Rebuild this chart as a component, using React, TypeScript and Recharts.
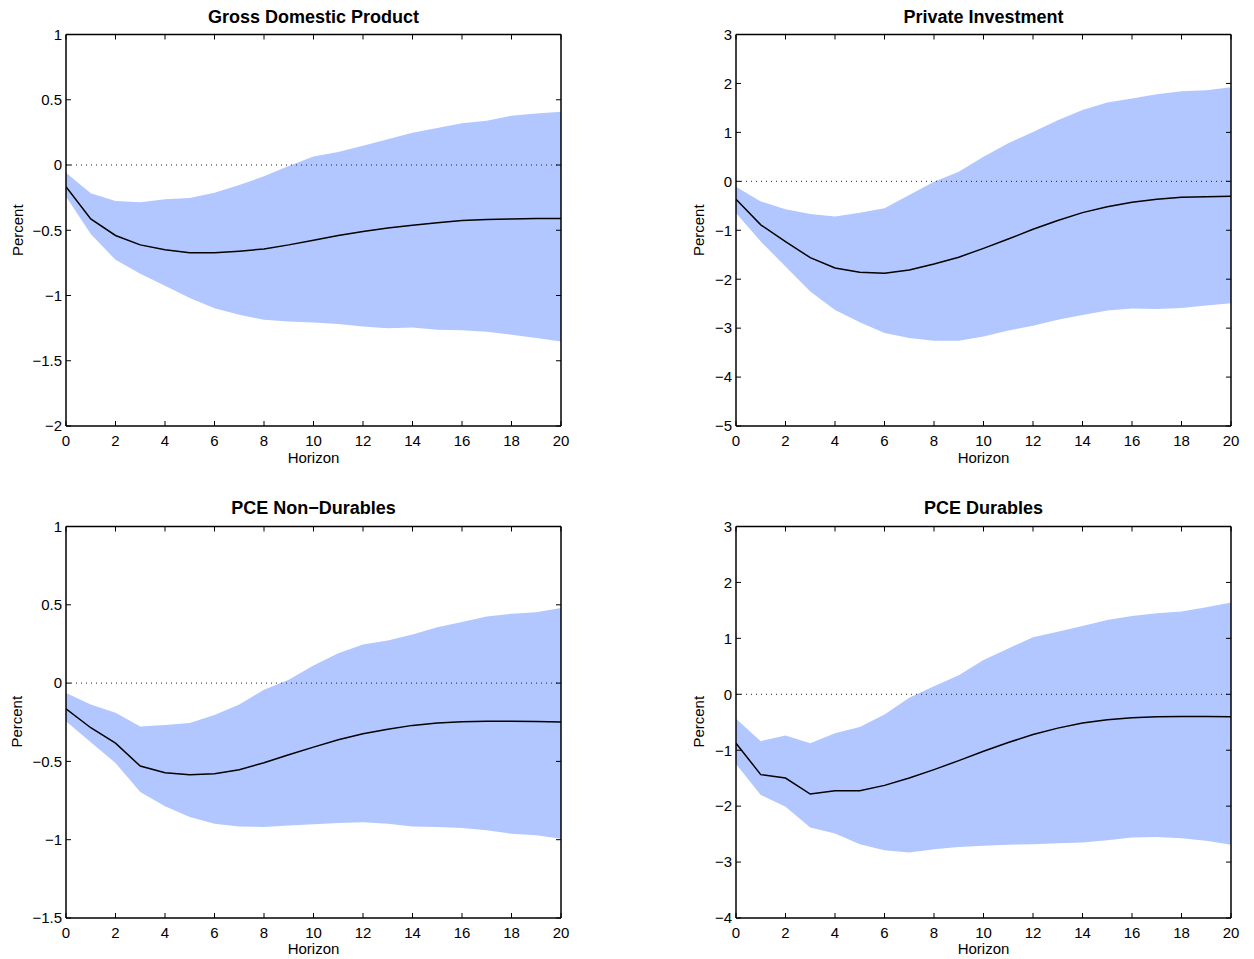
import React from "react";
import { ComposedChart, Area, Line, XAxis, YAxis, ReferenceLine } from "recharts";

// ---------- data ----------
const horizon = [0, 1, 2, 3, 4, 5, 6, 7, 8, 9, 10, 11, 12, 13, 14, 15, 16, 17, 18, 19, 20];
const xTicks = [0, 2, 4, 6, 8, 10, 12, 14, 16, 18, 20];

const gdpTitle = "Gross Domestic Product";
const gdpMean = [-0.166, -0.413, -0.54, -0.612, -0.65, -0.673, -0.673, -0.66, -0.643, -0.612, -0.576, -0.54, -0.51, -0.482, -0.461, -0.443, -0.426, -0.418, -0.413, -0.41, -0.41];
const gdpUpper = [-0.059, -0.217, -0.276, -0.286, -0.263, -0.253, -0.212, -0.153, -0.087, -0.008, 0.066, 0.1, 0.148, 0.197, 0.247, 0.283, 0.319, 0.339, 0.377, 0.395, 0.408];
const gdpLower = [-0.242, -0.528, -0.727, -0.834, -0.926, -1.02, -1.097, -1.148, -1.186, -1.199, -1.206, -1.219, -1.237, -1.25, -1.245, -1.262, -1.267, -1.277, -1.3, -1.325, -1.352];
const gdpTicks = [-2, -1.5, -1, -0.5, 0, 0.5, 1];

const invTitle = "Private Investment";
const invMean = [-0.367, -0.89, -1.23, -1.56, -1.77, -1.86, -1.88, -1.81, -1.69, -1.55, -1.37, -1.18, -0.98, -0.8, -0.64, -0.52, -0.43, -0.367, -0.327, -0.313, -0.306];
const invUpper = [-0.11, -0.41, -0.57, -0.667, -0.72, -0.64, -0.55, -0.28, -0.007, 0.197, 0.503, 0.776, 1.01, 1.25, 1.456, 1.61, 1.69, 1.78, 1.84, 1.86, 1.92];
const invLower = [-0.65, -1.23, -1.74, -2.25, -2.63, -2.88, -3.1, -3.2, -3.26, -3.26, -3.17, -3.05, -2.95, -2.83, -2.73, -2.64, -2.6, -2.61, -2.59, -2.54, -2.49];
const invTicks = [-5, -4, -3, -2, -1, 0, 1, 2, 3];

const ndTitle = "PCE Non\u2212Durables";
const ndMean = [-0.164, -0.285, -0.383, -0.53, -0.572, -0.585, -0.579, -0.553, -0.509, -0.457, -0.409, -0.362, -0.323, -0.294, -0.27, -0.255, -0.247, -0.243, -0.243, -0.245, -0.249];
const ndUpper = [-0.064, -0.136, -0.19, -0.277, -0.268, -0.255, -0.204, -0.136, -0.043, 0.021, 0.113, 0.19, 0.247, 0.272, 0.31, 0.357, 0.39, 0.426, 0.443, 0.453, 0.48];
const ndLower = [-0.243, -0.377, -0.51, -0.696, -0.787, -0.855, -0.898, -0.915, -0.919, -0.91, -0.902, -0.894, -0.889, -0.898, -0.915, -0.919, -0.926, -0.94, -0.962, -0.972, -0.994];
const ndTicks = [-1.5, -1, -0.5, 0, 0.5, 1];

const durTitle = "PCE Durables";
const durMean = [-0.874, -1.437, -1.497, -1.784, -1.725, -1.725, -1.629, -1.497, -1.347, -1.186, -1.018, -0.862, -0.719, -0.605, -0.515, -0.455, -0.419, -0.401, -0.395, -0.395, -0.401];
const durUpper = [-0.437, -0.838, -0.737, -0.874, -0.695, -0.587, -0.36, -0.06, 0.144, 0.341, 0.611, 0.82, 1.018, 1.12, 1.22, 1.33, 1.4, 1.45, 1.48, 1.557, 1.64];
const durLower = [-1.245, -1.8, -2.01, -2.38, -2.49, -2.68, -2.79, -2.83, -2.77, -2.73, -2.71, -2.69, -2.68, -2.665, -2.65, -2.61, -2.56, -2.55, -2.575, -2.62, -2.69];
const durTicks = [-4, -3, -2, -1, 0, 1, 2, 3];

const xLabel = "Horizon";
const yLabel = "Percent";

// ---------- layout ----------
const BAND = "#b2c7ff";
const FONT = "'Liberation Sans', Arial, Helvetica, sans-serif";
const CHART_W = 600;
const CHART_H = 480;
const PLOT_LEFT = 66;
const PLOT_TOP = 34.5;
const PLOT_W = 495;
const PLOT_H = 391.5;

const fmt = (v: number) => (v < 0 ? "\u2212" + String(-v) : String(v));

function buildRows(mean: number[], lower: number[], upper: number[]) {
  return horizon.map((h, i) => ({ h, mean: mean[i], band: [lower[i], upper[i]] }));
}

const panels = [
  { title: gdpTitle, mean: gdpMean, lower: gdpLower, upper: gdpUpper, ticks: gdpTicks, ox: 0, oy: 0, ylx: 22.5 },
  { title: invTitle, mean: invMean, lower: invLower, upper: invUpper, ticks: invTicks, ox: 670, oy: 0, ylx: 704 },
  { title: ndTitle, mean: ndMean, lower: ndLower, upper: ndUpper, ticks: ndTicks, ox: 0, oy: 491.5, ylx: 22 },
  { title: durTitle, mean: durMean, lower: durLower, upper: durUpper, ticks: durTicks, ox: 670, oy: 491.5, ylx: 704 },
];

const axisLine = { stroke: "#000", strokeWidth: 1.5 };
const tickLine = { stroke: "#000", strokeWidth: 1 };
const hiddenTick = { fill: "none", fontSize: 1 };

function Panel(p: typeof panels[number]) {
  const rows = buildRows(p.mean, p.lower, p.upper);
  const domain: [number, number] = [p.ticks[0], p.ticks[p.ticks.length - 1]];
  return (
    <div style={{ position: "absolute", left: p.ox, top: p.oy, width: CHART_W, height: CHART_H }}>
      <ComposedChart
        width={CHART_W}
        height={CHART_H}
        data={rows}
        margin={{
          top: PLOT_TOP - 1,
          right: CHART_W - PLOT_LEFT - PLOT_W - 1,
          bottom: CHART_H - PLOT_TOP - PLOT_H - 30,
          left: PLOT_LEFT - 60,
        }}
      >
        <Area xAxisId="b" yAxisId="l" dataKey="band" type="linear" stroke="none" fill={BAND} fillOpacity={1} isAnimationActive={false} />
        <ReferenceLine xAxisId="b" yAxisId="l" y={0} stroke="#222" strokeWidth={1} strokeDasharray="1 4" />
        <Line xAxisId="b" yAxisId="l" dataKey="mean" type="linear" stroke="#000" strokeWidth={1.5} dot={false} isAnimationActive={false} />
        <Line xAxisId="t" yAxisId="r" dataKey="mean" type="linear" stroke="none" dot={false} isAnimationActive={false} />
        <XAxis
          xAxisId="b"
          dataKey="h"
          type="number"
          domain={[0, 20]}
          ticks={xTicks}
          interval={0}
          allowDataOverflow
          tickSize={-5}
          tickMargin={14}
          height={30}
          axisLine={axisLine}
          tickLine={tickLine}
          tick={{ fontSize: 15, fill: "#000" }}
        />
        <XAxis
          xAxisId="t"
          orientation="top"
          dataKey="h"
          type="number"
          domain={[0, 20]}
          ticks={xTicks}
          interval={0}
          allowDataOverflow
          tickSize={-5}
          height={1}
          axisLine={axisLine}
          tickLine={tickLine}
          tick={hiddenTick}
        />
        <YAxis
          yAxisId="l"
          type="number"
          domain={domain}
          ticks={p.ticks}
          interval={0}
          allowDataOverflow
          tickSize={-5}
          tickMargin={9}
          width={60}
          tickFormatter={fmt}
          axisLine={axisLine}
          tickLine={tickLine}
          tick={{ fontSize: 15, fill: "#000" }}
        />
        <YAxis
          yAxisId="r"
          orientation="right"
          type="number"
          domain={domain}
          ticks={p.ticks}
          interval={0}
          allowDataOverflow
          tickSize={-5}
          width={1}
          axisLine={axisLine}
          tickLine={tickLine}
          tick={hiddenTick}
        />
      </ComposedChart>
    </div>
  );
}

export default function App() {
  return (
    <div style={{ position: "absolute", left: 0, top: 0, width: 1254, height: 959, background: "#fff", fontFamily: FONT }}>
      {panels.map((p) => (
        <Panel key={p.title} {...p} />
      ))}
      <svg width={1254} height={959} style={{ position: "absolute", left: 0, top: 0, pointerEvents: "none" }}>
        {panels.map((p) => {
          const cx = p.ox + PLOT_LEFT + PLOT_W / 2;
          const cy = p.oy + PLOT_TOP + PLOT_H / 2;
          return (
            <g key={p.title} fontFamily={FONT} fill="#000">
              <text x={cx} y={p.oy + 22.7} textAnchor="middle" fontSize={18} fontWeight="bold">
                {p.title}
              </text>
              <text x={cx} y={p.oy + PLOT_TOP + PLOT_H + 36.7} textAnchor="middle" fontSize={15}>
                {xLabel}
              </text>
              <text x={p.ylx} y={cy} textAnchor="middle" fontSize={15} transform={`rotate(-90 ${p.ylx} ${cy})`}>
                {yLabel}
              </text>
            </g>
          );
        })}
      </svg>
    </div>
  );
}
